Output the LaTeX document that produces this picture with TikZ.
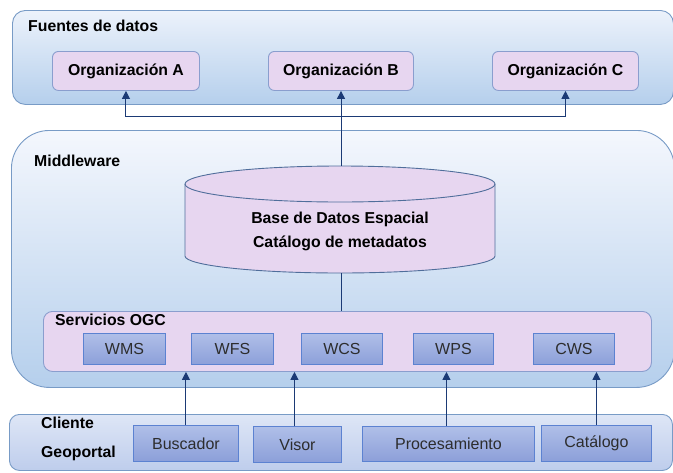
\documentclass[tikz,border=0pt]{standalone}
\usepackage{fontspec}
\setmainfont{Liberation Sans}
\usetikzlibrary{arrows.meta,shadings}
\definecolor{panelTopA}{RGB}{236,242,251}
\definecolor{panelTopB}{RGB}{244,247,253}
\definecolor{panelBot}{RGB}{181,207,236}
\definecolor{panelLine}{RGB}{120,155,198}
\definecolor{pinkFill}{RGB}{231,214,240}
\definecolor{orgLine}{RGB}{138,158,206}
\definecolor{svcTop}{RGB}{176,191,232}
\definecolor{svcBot}{RGB}{140,159,217}
\definecolor{svcLine}{RGB}{92,130,209}
\definecolor{arrowCol}{RGB}{27,58,117}
\definecolor{txtCol}{RGB}{45,45,45}
\definecolor{cylLine}{RGB}{80,110,155}
\definecolor{cliTop}{RGB}{222,230,246}
\definecolor{cliMid}{RGB}{250,251,254}
\definecolor{cliBot}{RGB}{190,205,236}
\begin{document}
\begin{tikzpicture}[x=1pt,y=1pt,
  panel/.style={draw=panelLine, line width=0.9pt, inner sep=0pt, anchor=north west},
  boldlabel/.style={anchor=base west, inner sep=0pt, font=\fontsize{15.8}{18}\selectfont\bfseries},
  orgbox/.style={draw=orgLine, line width=0.9pt, fill=pinkFill, rounded corners=6pt, inner sep=0pt,
    anchor=north west, minimum height=39pt, font=\fontsize{15.8}{18}\selectfont\bfseries},
  svcbox/.style={draw=svcLine, line width=0.9pt, top color=svcTop, bottom color=svcBot, inner sep=0pt,
    anchor=north west, text=txtCol, font=\fontsize{16}{19}\selectfont},
  conn/.style={draw=arrowCol, line width=1pt},
  arr/.style={conn, -{Triangle[length=8pt,width=8pt]}}
]
\useasboundingbox (0,0) rectangle (673,-472);

% Fuentes de datos
\node[panel, rounded corners=13pt, top color=panelTopA, bottom color=panelBot,
  minimum width=661pt, minimum height=94pt] (fuentes) at (12,-10) {};
\node[boldlabel] (fuenteslbl) at (28,-31) {Fuentes de datos};
\node[orgbox, minimum width=147pt] (orgA) at (52,-51) {Organización A};
\node[orgbox, minimum width=145pt] (orgB) at (268,-51) {Organización B};
\node[orgbox, minimum width=146pt] (orgC) at (492,-51) {Organización C};

% Middleware
\node[panel, rounded corners=38pt, top color=panelTopB, bottom color=panelBot,
  minimum width=663pt, minimum height=257pt] (middle) at (11,-130) {};
\node[boldlabel] (middlelbl) at (34,-166) {Middleware};

% Cylinder
\fill[pinkFill] (185,-184) -- (185,-256)
  arc[start angle=180, end angle=360, x radius=155pt, y radius=17pt]
  -- (495,-184)
  arc[start angle=0, end angle=180, x radius=155pt, y radius=18pt] -- cycle;
\draw[cylLine, line width=0.9pt] (185,-184) -- (185,-256)
  arc[start angle=180, end angle=360, x radius=155pt, y radius=17pt]
  -- (495,-184);
\draw[cylLine, line width=0.9pt] (340,-184) ellipse[x radius=155pt, y radius=18pt];
\coordinate (dbtop) at (341,-166);
\coordinate (dbbot) at (341,-273);
\node[boldlabel, anchor=base] (db1) at (340,-223) {Base de Datos Espacial};
\node[boldlabel, anchor=base] (db2) at (340,-247) {Catálogo de metadatos};

% Servicios OGC
\node[panel, draw=orgLine, fill=pinkFill, rounded corners=9pt,
  minimum width=608pt, minimum height=60pt] (svc) at (43,-311) {};
\node[boldlabel] (svclbl) at (55,-325) {Servicios OGC};
\node[svcbox, minimum width=82pt, minimum height=31pt] (wms) at (83,-333) {WMS};
\node[svcbox, minimum width=82pt, minimum height=31pt] (wfs) at (191,-333) {WFS};
\node[svcbox, minimum width=81pt, minimum height=31pt] (wcs) at (301,-333) {WCS};
\node[svcbox, minimum width=80pt, minimum height=31pt] (wps) at (413,-333) {WPS};
\node[svcbox, minimum width=81pt, minimum height=31pt] (cws) at (533,-333) {CWS};

% Cliente Geoportal
\node[panel, rounded corners=10pt, top color=cliTop, middle color=cliMid, bottom color=cliBot,
  minimum width=663pt, minimum height=56pt] (cli) at (9,-414) {};
\node[boldlabel] (clilbl1) at (41,-428) {Cliente};
\node[boldlabel] (clilbl2) at (41,-457) {Geoportal};
\node[svcbox, minimum width=105pt, minimum height=36pt] (bus) at (133,-425) {Buscador};
\node[svcbox, minimum width=88pt, minimum height=36pt] (vis) at (253,-426) {Visor};
\node[svcbox, minimum width=172pt, minimum height=35pt] (pro) at (362,-426) {Procesamiento};
\node[svcbox, minimum width=110pt, minimum height=36pt] (cat) at (541,-425) {Catálogo};

% Connectors
\coordinate (j) at (341,-116);
\draw[arr] (dbtop) -- (dbtop |- orgB.south);
\draw[arr] (j) -| (orgA.south);
\draw[arr] (j) -| (orgC.south);
\draw[conn] (dbbot) -- (dbbot |- svc.north);
\draw[arr] (bus.north) -- (bus.north |- svc.south);
\draw[arr] ([xshift=-3pt]vis.north) -- ([xshift=-3pt]vis.north |- svc.south);
\draw[arr] ([xshift=-2pt]pro.north) -- ([xshift=-2pt]pro.north |- svc.south);
\draw[arr] (cat.north) -- (cat.north |- svc.south);
\end{tikzpicture}
\end{document}
